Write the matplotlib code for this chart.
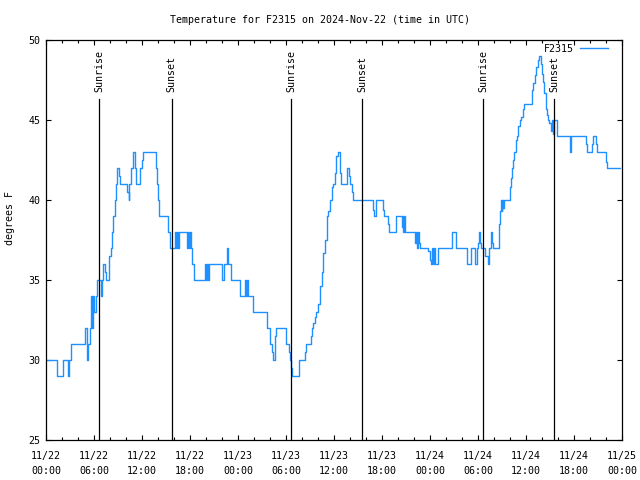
import matplotlib
matplotlib.use("Agg")
import matplotlib.pyplot as plt
from matplotlib.ticker import MultipleLocator

# hours since 2024-11-22 00:00 UTC, temperature (F) from that hour on
hours = [0.0, 1.35, 2.1, 2.7, 2.85, 3.1, 4.85, 5.1, 5.2, 5.45, 5.6, 5.7, 5.85, 6.0,
         6.2, 6.4, 6.83, 7.0, 7.17, 7.33, 7.5, 7.9, 8.08, 8.25, 8.4, 8.58, 8.75,
         8.9, 9.08, 9.25, 10.17, 10.33, 10.4, 10.67, 10.9, 11.1, 11.25, 11.75,
         11.95, 12.08, 13.8, 13.9, 14.0, 14.1, 15.3, 15.45, 16.1, 16.3, 16.4,
         16.5, 16.67, 17.67, 17.8, 17.9, 18.0, 18.17, 18.3, 18.45, 19.9, 20.04,
         20.17, 20.3, 20.4, 21.96, 22.25, 22.6, 22.8, 23.1, 24.3, 24.9, 25.0,
         25.1, 25.3, 25.83, 27.67, 28.0, 28.25, 28.4, 28.67, 28.8, 30.0, 30.42,
         30.5, 30.67, 30.75, 31.67, 32.4, 32.5, 33.1, 33.2, 33.4, 33.6, 33.8,
         34.0, 34.25, 34.5, 34.67, 34.9, 35.1, 35.3, 35.5, 35.7, 35.9, 36.1,
         36.3, 36.5, 36.75, 36.85, 37.6, 37.9, 38.0, 38.2, 38.4, 40.85, 41.0,
         41.3, 42.1, 42.25, 42.8, 42.9, 43.75, 44.45, 44.6, 44.67, 44.75, 44.9,
         46.08, 46.2, 46.33, 46.45, 46.58, 46.75, 47.8, 48.0, 48.1, 48.25, 48.4,
         48.5, 48.6, 49.0, 50.8, 51.25, 52.67, 53.1, 53.6, 53.9, 54.0, 54.1,
         54.25, 54.4, 54.9, 55.2, 55.4, 55.6, 55.75, 55.9, 56.6, 56.7, 56.85,
         56.95, 57.0, 57.1, 57.3, 57.95, 58.1, 58.2, 58.35, 58.5, 58.7, 58.85,
         59.0, 59.2, 59.4, 59.6, 59.8, 60.75, 60.9, 61.1, 61.3, 61.5, 61.65,
         61.85, 62.0, 62.1, 62.3, 62.5, 62.6, 62.75, 62.9, 63.1, 63.25, 63.4,
         63.5, 63.85, 65.5, 65.65, 67.5, 67.6, 68.2, 68.35, 68.75, 68.85, 70.0,
         70.15, 71.75]
temps = [30, 29, 30, 29, 30, 31, 32, 30, 31, 32, 34, 32, 34, 33,
         34, 35, 34, 35, 36, 35.5, 35, 36.5, 37, 38, 39, 40, 41,
         42, 41.5, 41, 40.5, 40, 41, 42, 43, 42, 41, 42,
         42.5, 43, 42, 41, 40, 39, 38, 37, 38, 37, 38,
         37, 38, 37, 38, 37, 38, 37, 36, 35, 36, 35,
         36, 35, 36, 35, 36, 37, 36, 35, 34, 35, 34,
         35, 34, 33, 32, 31, 30.5, 30, 31.5, 32, 31, 30.5,
         30, 29.5, 29, 30, 30.5, 31, 31.5, 32, 32.3, 32.7, 33,
         33.5, 34.6, 35.5, 36.7, 37.5, 39, 39.3, 40, 40.8, 41, 41.7,
         42.75, 43, 41.7, 41, 42, 41.5, 41, 40.5, 40, 39.4, 39,
         40, 39.4, 39, 38.5, 38, 39, 38.3, 39, 38, 39, 38,
         37.3, 38, 37, 38, 37.3, 37, 36.8, 36.25, 36, 37, 36,
         37, 36, 37, 38, 37, 36, 37, 36, 37, 37.3, 38,
         37.3, 37, 36.5, 36, 37, 38, 37.3, 37, 38.5, 39.3, 40,
         39.3, 40, 39.5, 40, 40.8, 41.4, 42, 42.5, 43, 43.75, 44,
         44.6, 45, 45.2, 45.7, 46, 46.9, 47.3, 47.8, 48.3, 48.75, 49,
         48.5, 47.9, 47.4, 46.7, 45.7, 45.3, 45, 44.8, 44.3, 45, 44.1,
         45, 44, 43, 44, 43.5, 43, 43.5, 44, 43.5, 43, 42.4,
         42, 42]

sunrise = [6.67, 30.67, 54.67]
sunset = [15.7, 39.54, 63.54]

xtick_labels = ["11/22\n00:00", "11/22\n06:00", "11/22\n12:00", "11/22\n18:00",
                "11/23\n00:00", "11/23\n06:00", "11/23\n12:00", "11/23\n18:00",
                "11/24\n00:00", "11/24\n06:00", "11/24\n12:00", "11/24\n18:00",
                "11/25\n00:00"]

plt.rcParams["font.family"] = ["DejaVu Sans Mono"]
plt.rcParams["font.size"] = 7.2

fig = plt.figure(figsize=(6.4, 4.8), dpi=100)
ax = fig.add_axes([46 / 640, 40 / 480, 576 / 640, 400 / 480])

ax.plot(hours, temps, drawstyle="steps-post", color="#1e90ff", lw=1.0, label="F2315")

for h in sunrise:
    ax.plot([h, h], [25, 46.3], color="black", lw=0.9)
    ax.text(h, 46.75, "Sunrise", rotation=90, ha="center", va="bottom")
for h in sunset:
    ax.plot([h, h], [25, 46.3], color="black", lw=0.9)
    ax.text(h, 46.75, "Sunset", rotation=90, ha="center", va="bottom")

ax.set_xlim(0, 72)
ax.set_ylim(25, 50)
ax.set_xticks(range(0, 73, 6))
ax.set_xticklabels(xtick_labels, linespacing=1.6)
ax.xaxis.set_minor_locator(MultipleLocator(2))
ax.set_yticks(range(25, 51, 5))
ax.tick_params(which="both", direction="in", top=True, right=True, width=0.8)
ax.tick_params(which="major", length=3.5, pad=4)
ax.tick_params(axis="x", which="major", pad=8)
ax.tick_params(which="minor", length=2.5)
for s in ax.spines.values():
    s.set_linewidth(0.9)

ax.set_ylabel("degrees F")
ax.yaxis.set_label_coords(-0.053, 0.555)
fig.text(0.5, 1 - 20 / 480, "Temperature for F2315 on 2024-Nov-22 (time in UTC)",
         ha="center", va="center")
ax.legend(loc="upper right", frameon=False, markerfirst=False, handlelength=2.8,
          borderaxespad=0.2, borderpad=0.2, handletextpad=0.6,
          bbox_to_anchor=(0.983, 1.0))

fig.savefig("out.png", dpi=100)
